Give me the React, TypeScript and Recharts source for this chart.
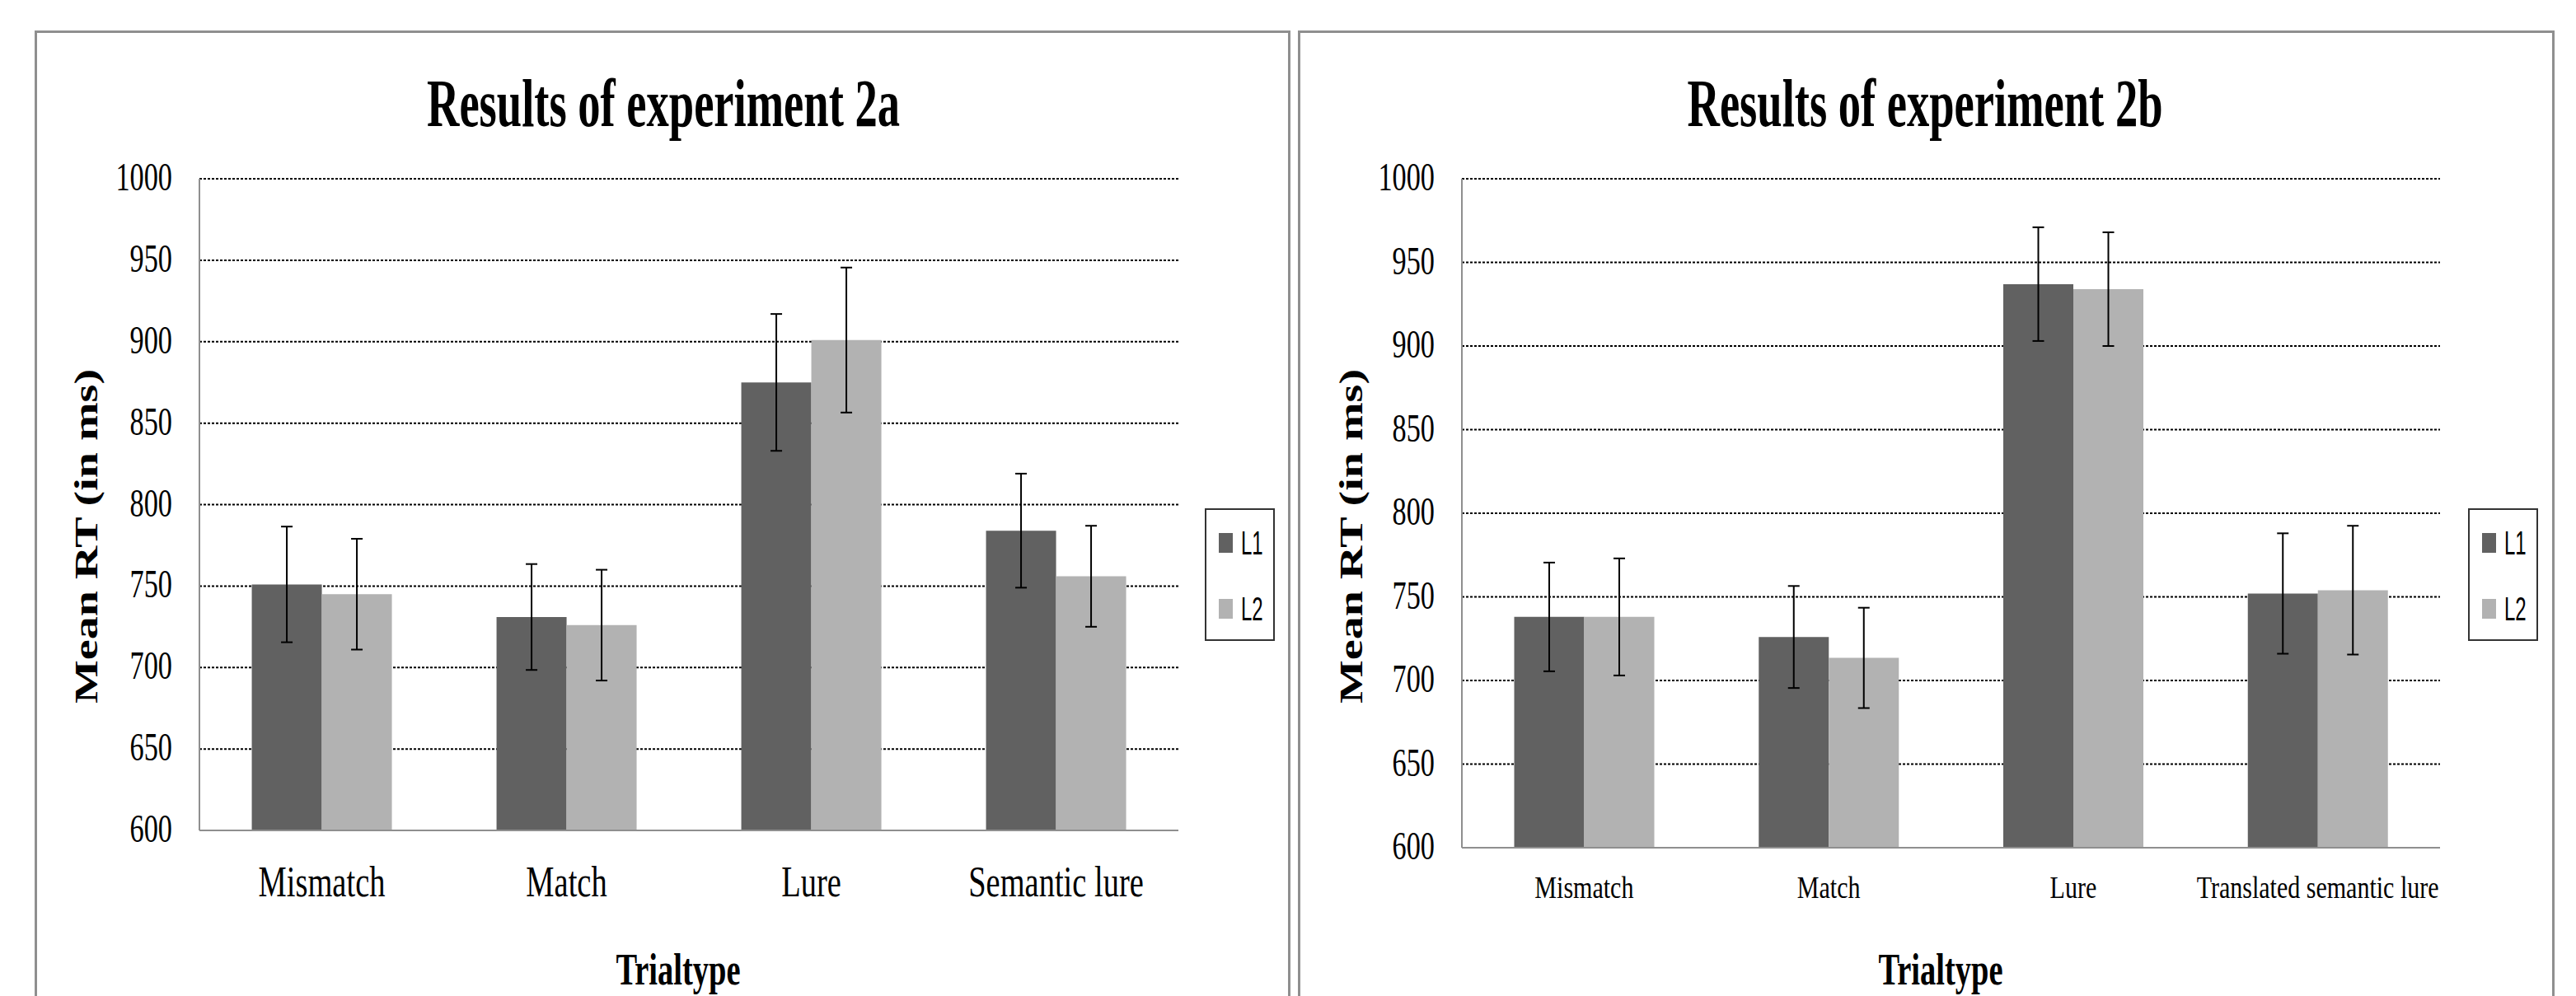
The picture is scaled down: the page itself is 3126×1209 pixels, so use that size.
import React from "react";
import { BarChart, Bar, XAxis, YAxis, CartesianGrid, ErrorBar, Legend } from "recharts";

const yTicks = [600, 650, 700, 750, 800, 850, 900, 950, 1000];
const seriesNames = ["L1", "L2"];

// experiment 2a
const trialtypesA = ["Mismatch", "Match", "Lure", "Semantic lure"];
const l1A = [751, 731, 875, 784];
const l2A = [745, 726, 901, 756];
const l1ErrA = [35.5, 32.5, 42, 35];
const l2ErrA = [34, 34, 44.5, 31];

// experiment 2b
const trialtypesB = ["Mismatch", "Match", "Lure", "Translated semantic lure"];
const l1B = [738, 726, 937, 752];
const l2B = [738, 713.5, 934, 754];
const l1ErrB = [32.5, 30.5, 34, 36];
const l2ErrB = [35, 30, 34, 38.5];

const SERIF = "'Liberation Serif', 'Times New Roman', serif";
const SANS = "'Liberation Sans', Arial, sans-serif";
const DARK = "#616161";
const LIGHT = "#b2b2b2";
const AXIS = "#8f8f8f";

const rowsOf = (cats: string[], l1: number[], l2: number[], e1: number[], e2: number[]) =>
  cats.map((t, i) => ({ trialtype: t, L1: l1[i], L2: l2[i], l1Err: e1[i], l2Err: e2[i] }));

const dataA = rowsOf(trialtypesA, l1A, l2A, l1ErrA, l2ErrA);
const dataB = rowsOf(trialtypesB, l1B, l2B, l1ErrB, l2ErrB);

function YTick({ x, y, payload }: any) {
  return (
    <text
      transform={`translate(${x},${y + 14}) scale(0.7,1)`}
      textAnchor="end"
      fontFamily={SERIF}
      fontSize={49}
      fill="#000"
    >
      {payload.value}
    </text>
  );
}

function XTick({ x, y, payload, size, squash, drop }: any) {
  return (
    <text
      transform={`translate(${x},${y + drop}) scale(${squash},1)`}
      textAnchor="middle"
      fontFamily={SERIF}
      fontSize={size}
      fill="#000"
    >
      {payload.value}
    </text>
  );
}

function YTitle({ cx, cy }: any) {
  return (
    <text
      transform={`translate(${cx},${cy}) scale(0.7,1) rotate(-90)`}
      textAnchor="middle"
      dominantBaseline="central"
      fontFamily={SERIF}
      fontWeight="bold"
      fontSize={56}
      fill="#000"
    >
      Mean RT (in ms)
    </text>
  );
}

// the reference crops this title at the bottom edge; kept just inside the frame
function XTitle({ cx }: any) {
  return (
    <text
      transform={`translate(${cx},1195) scale(0.7,1)`}
      textAnchor="middle"
      fontFamily={SERIF}
      fontWeight="bold"
      fontSize={55}
      fill="#000"
    >
      Trialtype
    </text>
  );
}

function LegendBox({ payload }: any) {
  return (
    <div
      style={{
        width: 85,
        height: 161,
        boxSizing: "border-box",
        border: "2px solid #333",
        background: "#fff",
        position: "relative",
      }}
    >
      {(payload || []).map((p: any, i: number) => (
        <div key={p.value} style={{ position: "absolute", left: 15, top: 20 + i * 80, height: 40, display: "flex", alignItems: "center" }}>
          <div style={{ width: 17, height: 24, background: p.color }} />
          <span
            style={{
              fontFamily: SANS,
              fontSize: 40,
              lineHeight: "40px",
              color: "#000",
              marginLeft: 10,
              display: "inline-block",
              transform: "scaleX(0.6)",
              transformOrigin: "left center",
            }}
          >
            {p.value}
          </span>
        </div>
      ))}
    </div>
  );
}

function Panel({ cfg }: any) {
  return (
    <div style={{ position: "absolute", left: cfg.ox, top: 0, width: cfg.width, height: 1209 }}>
      <svg width={cfg.width} height={200} style={{ position: "absolute", left: 0, top: 0 }}>
        <text
          transform={`translate(${cfg.titleX},153) scale(0.665,1)`}
          textAnchor="middle"
          fontFamily={SERIF}
          fontWeight="bold"
          fontSize={82}
          fill="#000"
        >
          {cfg.title}
        </text>
      </svg>
      <div style={{ position: "absolute", left: 0, top: 0 }}>
        <BarChart
          width={cfg.width}
          height={1209}
          data={cfg.data}
          margin={cfg.margin}
          barCategoryGap="21.4%"
          barGap={0}
        >
          <CartesianGrid
            vertical={false}
            horizontalValues={yTicks.slice(1)}
            stroke="#000"
            strokeDasharray="3 2"
            strokeWidth={2}
          />
          <XAxis
            dataKey="trialtype"
            height={150}
            interval={0}
            tickLine={false}
            tickSize={0}
            tickMargin={0}
            axisLine={{ stroke: AXIS, strokeWidth: 2 }}
            tick={(p: any) => <XTick {...p} size={cfg.xSize} squash={cfg.xSquash} drop={cfg.xDrop} />}
            label={<XTitle cx={cfg.trialX} />}
          />
          <YAxis
            domain={[600, 1000]}
            ticks={yTicks}
            interval={0}
            width={100}
            allowDataOverflow
            tickLine={false}
            tickSize={0}
            tickMargin={33}
            axisLine={{ stroke: AXIS, strokeWidth: 2 }}
            tick={(p: any) => <YTick {...p} />}
            label={<YTitle cx={cfg.yLabelX} cy={651} />}
          />
          <Legend
            layout="horizontal"
            verticalAlign="middle"
            align="center"
            wrapperStyle={{ left: cfg.legendLeft, top: 617, width: 85, height: 161 }}
            content={(p: any) => <LegendBox {...p} />}
          />
          <Bar dataKey="L1" name={seriesNames[0]} fill={DARK} isAnimationActive={false}>
            <ErrorBar dataKey="l1Err" width={7} stroke="#000" strokeWidth={2} direction="y" />
          </Bar>
          <Bar dataKey="L2" name={seriesNames[1]} fill={LIGHT} isAnimationActive={false}>
            <ErrorBar dataKey="l2Err" width={7} stroke="#000" strokeWidth={2} direction="y" />
          </Bar>
        </BarChart>
      </div>
    </div>
  );
}

const panelA = {
  title: "Results of experiment 2a",
  data: dataA,
  ox: 0,
  width: 1566,
  margin: { top: 217, left: 142, right: 136, bottom: 51 },
  xSize: 52,
  xSquash: 0.74,
  xDrop: 80,
  titleX: 805,
  yLabelX: 105,
  trialX: 823,
  legendLeft: 1462,
};

const panelB = {
  title: "Results of experiment 2b",
  data: dataB,
  ox: 1566,
  width: 1560,
  margin: { top: 217, left: 108, right: 165, bottom: 30 },
  xSize: 38,
  xSquash: 0.79,
  xDrop: 61,
  titleX: 770,
  yLabelX: 74,
  trialX: 789,
  legendLeft: 1429,
};

export default function App() {
  return (
    <div
      style={{
        position: "absolute",
        left: 0,
        top: 0,
        width: 3126,
        height: 1209,
        overflow: "hidden",
        background: "#fff",
      }}
    >
      <div style={{ position: "absolute", left: 42, top: 37, width: 1524, height: 1300, border: `3px solid ${AXIS}`, boxSizing: "border-box" }} />
      <div style={{ position: "absolute", left: 1575, top: 37, width: 1525, height: 1300, border: `3px solid ${AXIS}`, boxSizing: "border-box" }} />
      <Panel cfg={panelA} />
      <Panel cfg={panelB} />
    </div>
  );
}
